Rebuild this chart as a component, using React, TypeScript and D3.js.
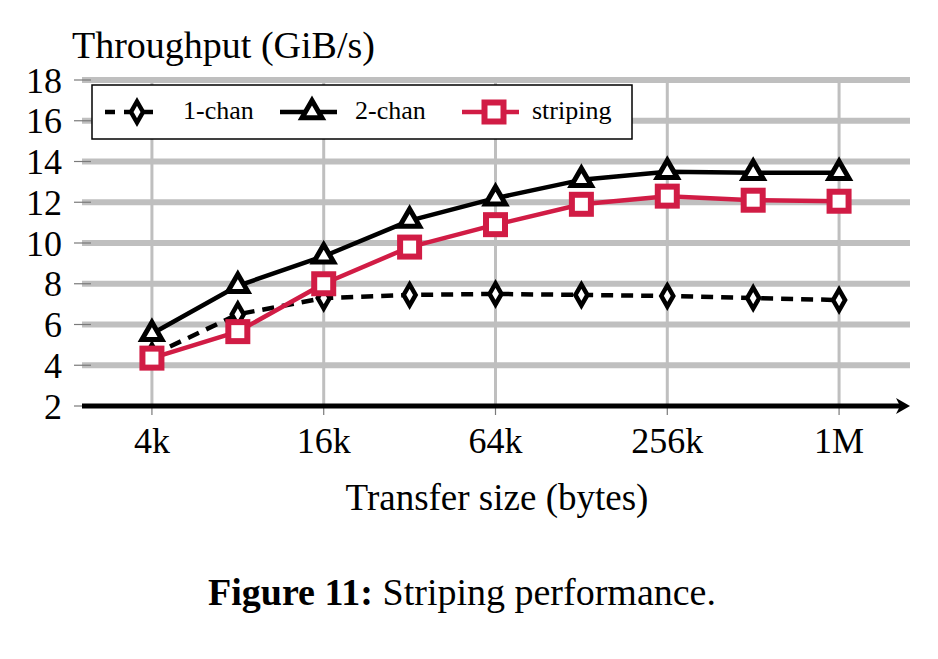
import React from "react";
import * as d3 from "d3";

const sizesKB = [4, 8, 16, 32, 64, 128, 256, 512, 1024];
const oneChan = [4.5, 6.5, 7.3, 7.45, 7.5, 7.45, 7.4, 7.3, 7.2];
const twoChan = [5.55, 7.9, 9.35, 11.1, 12.2, 13.1, 13.5, 13.45, 13.45];
const striping = [4.35, 5.65, 8.0, 9.8, 10.9, 11.9, 12.3, 12.1, 12.05];

const xTickValues = [4, 16, 64, 256, 1024];
const xTickLabels = ["4k", "16k", "64k", "256k", "1M"];
const yTickValues = [2, 4, 6, 8, 10, 12, 14, 16, 18];

const seriesNames = ["1-chan", "2-chan", "striping"];

const W = 938;
const H = 659;
const FONT = "'Liberation Serif', 'Times New Roman', serif";
const RED = "#d11c45";
const GRID = "#bfbfbf";

const left = 82;
const right = 910;
const top = 80;
const bottom = 406;

export default function App() {
  const x = d3.scaleLog().base(2).domain([2.275, 1815]).range([left, right]);
  const y = d3.scaleLinear().domain([2, 18]).range([bottom, top]);

  const line = d3
    .line<[number, number]>()
    .x((d) => x(d[0]))
    .y((d) => y(d[1]));

  const pts = (vals: number[]) => sizesKB.map((s, i) => [s, vals[i]] as [number, number]);

  const diamond = "M0,-10.5 L6,0 L0,10.5 L-6,0 Z";
  const triR = 11.5;
  const triangle = `M0,${-triR} L${triR * 0.866},${triR / 2} L${-triR * 0.866},${triR / 2} Z`;

  const renderMarker = (kind: number, cx: number, cy: number, key: string) => {
    if (kind === 0)
      return (
        <path key={key} d={diamond} transform={`translate(${cx},${cy})`} fill="#fff" stroke="#000" strokeWidth={4.5} strokeLinejoin="miter" />
      );
    if (kind === 1)
      return (
        <path key={key} d={triangle} transform={`translate(${cx},${cy})`} fill="#fff" stroke="#000" strokeWidth={5} strokeLinejoin="miter" />
      );
    return <rect key={key} x={cx - 9.5} y={cy - 9.5} width={19} height={19} fill="#fff" stroke={RED} strokeWidth={6} />;
  };

  const series = [
    { vals: oneChan, color: "#000", dash: "12,8" },
    { vals: twoChan, color: "#000", dash: undefined },
    { vals: striping, color: RED, dash: undefined },
  ];

  const legendItems = [
    { lx: 105, tx: 183 },
    { lx: 280, tx: 355 },
    { lx: 462, tx: 532 },
  ];
  const legendY = 112;

  return (
    <svg width={W} height={H} style={{ position: "absolute", left: 0, top: 0, background: "#fff" }} fontFamily={FONT}>
      <rect x={0} y={0} width={W} height={H} fill="#fff" />
      {/* horizontal grid */}
      {yTickValues.filter((v) => v !== 2).map((v) => (
        <line key={"hg" + v} x1={left} x2={right} y1={y(v)} y2={y(v)} stroke={GRID} strokeWidth={6} />
      ))}
      {/* vertical grid */}
      {xTickValues.map((v) => (
        <line key={"vg" + v} x1={x(v)} x2={x(v)} y1={top} y2={bottom} stroke={GRID} strokeWidth={3} />
      ))}
      {/* y tick marks */}
      {yTickValues.map((v) => (
        <line key={"yt" + v} x1={74} x2={91} y1={y(v)} y2={y(v)} stroke="#7a7a7a" strokeWidth={1.2} />
      ))}
      {/* x tick marks below axis */}
      {xTickValues.map((v) => (
        <line key={"xt" + v} x1={x(v)} x2={x(v)} y1={bottom} y2={bottom + 9} stroke="#7a7a7a" strokeWidth={1.2} />
      ))}
      {/* x axis */}
      <line x1={left} x2={right - 8} y1={bottom} y2={bottom} stroke="#000" strokeWidth={5} />
      <path d={`M${right},${bottom} L${right - 14},${bottom - 8} L${right - 10},${bottom} L${right - 14},${bottom + 8} Z`} fill="#000" />

      {/* y tick labels */}
      {yTickValues.map((v) => (
        <text key={"yl" + v} x={62} y={y(v) + 12.5} fontSize={36} textAnchor="end" fill="#000">
          {v}
        </text>
      ))}
      {/* x tick labels */}
      {xTickValues.map((v, i) => (
        <text key={"xl" + v} x={x(v)} y={453} fontSize={36} textAnchor="middle" fill="#000">
          {xTickLabels[i]}
        </text>
      ))}
      <text x={72} y={58} fontSize={38} fill="#000">Throughput (GiB/s)</text>
      <text x={497} y={510} fontSize={37} textAnchor="middle" fill="#000">Transfer size (bytes)</text>

      {/* series */}
      {series.map((s, si) => (
        <g key={"s" + si}>
          <path d={line(pts(s.vals)) || ""} fill="none" stroke={s.color} strokeWidth={4.5} strokeDasharray={s.dash} strokeLinejoin="round" />
          {pts(s.vals).map((p, i) => renderMarker(si, x(p[0]), y(p[1]), `m${si}-${i}`))}
        </g>
      ))}

      {/* legend */}
      <rect x={92} y={85} width={540} height={54} fill="#fff" stroke="#000" strokeWidth={1.5} />
      {legendItems.map((it, i) => (
        <g key={"lg" + i}>
          <line x1={it.lx} x2={it.lx + 57} y1={legendY} y2={legendY} stroke={series[i].color} strokeWidth={4.5} strokeDasharray={series[i].dash ? "10,9" : undefined} />
          {renderMarker(i, it.lx + 32, legendY, "lm" + i)}
          <text x={it.tx} y={119} fontSize={26} fill="#000">{seriesNames[i]}</text>
        </g>
      ))}

      {/* caption */}
      <text x={462} y={605} fontSize={38} textAnchor="middle" fill="#000">
        <tspan fontWeight="bold">Figure 11:</tspan> Striping performance.
      </text>
    </svg>
  );
}
